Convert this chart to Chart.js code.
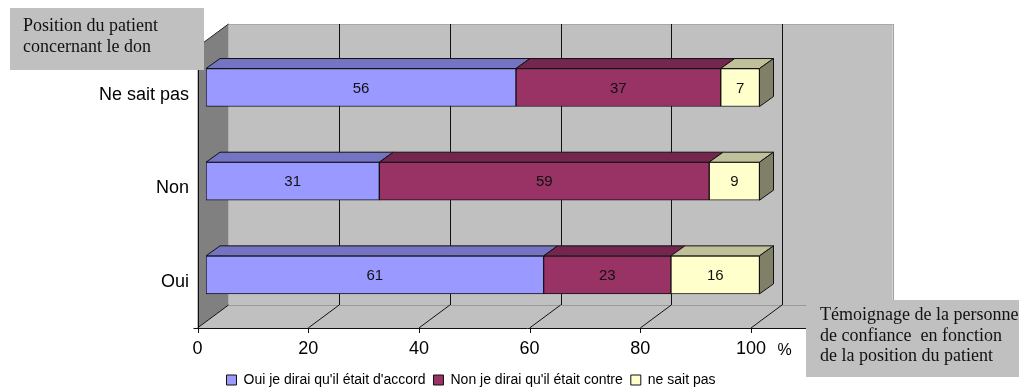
<!DOCTYPE html>
<html><head><meta charset="utf-8">
<script src="https://cdn.jsdelivr.net/npm/chart.js@4"></script>
<style>html,body{margin:0;padding:0;background:#fff;}#wrap{width:1019px;height:390px;}</style>
</head><body><div id="wrap"><canvas id="c" width="1019" height="390"></canvas></div>
<script>
// ---- data ----
const categories = ['Ne sait pas', 'Non', 'Oui'];
const seriesNames = ["Oui je dirai qu'il était d'accord", "Non je dirai qu'il était contre", "ne sait pas"];
const valuesOui = [56, 31, 61];
const valuesNon = [37, 59, 23];
const valuesNSP = [7, 9, 16];
const xTicks = [0, 20, 40, 60, 80, 100];
const xMax = 120;
const boxTextLeft = ['Position du patient', 'concernant le don'];
const boxTextRight = ['Témoignage de la personne', 'de confiance  en fonction', 'de la position du patient'];
const unitLabel = '%';

// 100% stacked: each row is scaled to its own total (labels keep the raw values)
const rawSeries = [valuesOui, valuesNon, valuesNSP];
const rowTotals = categories.map((_, i) => rawSeries.reduce((s, arr) => s + arr[i], 0));
const pct = arr => arr.map((v, i) => v / rowTotals[i] * 100);

// ---- style ----
const SANS = 'Liberation Sans, Arial, sans-serif';
const SERIF = 'Liberation Serif, Times New Roman, serif';
const frontColors = ['#9999FF', '#993366', '#FFFFCC'];
const topColors = ['#7474C2', '#74264E', '#C0C09A'];
const sideColors = ['#5C5C99', '#5C1F3D', '#808068'];
const D = {fx: -8.5, fy: 6.3, bx: 22.5, by: -16.7, bdx: 14, bdy: -10};
const PLOT_BOTTOM = 321.7;
const LEGEND_SHIFT = 7;

function poly(ctx, pts, fill, stroke) {
  ctx.beginPath();
  ctx.moveTo(pts[0][0], pts[0][1]);
  for (let i = 1; i < pts.length; i++) ctx.lineTo(pts[i][0], pts[i][1]);
  ctx.closePath();
  if (fill) { ctx.fillStyle = fill; ctx.fill(); }
  if (stroke) { ctx.strokeStyle = stroke; ctx.lineWidth = 1; ctx.stroke(); }
}
function line(ctx, x1, y1, x2, y2, color) {
  ctx.beginPath(); ctx.moveTo(x1, y1); ctx.lineTo(x2, y2);
  ctx.strokeStyle = color; ctx.lineWidth = 1; ctx.stroke();
}
const h = v => Math.round(v) + 0.5;

const wallsPlugin = {
  id: 'walls',
  afterLayout(chart) {
    if (chart.legend) { chart.legend.top += LEGEND_SHIFT; chart.legend.bottom += LEGEND_SHIFT; }
  },
  beforeDatasetsDraw(chart) {
    const {ctx, chartArea: ca, scales: {x}} = chart;
    const x0 = x.getPixelForValue(0), x1 = x.getPixelForValue(xMax);
    const T = ca.top, B = ca.bottom;
    ctx.save();
    // back wall
    poly(ctx, [[x0 + D.bx, T + D.by], [x1 + D.bx, T + D.by], [x1 + D.bx, B + D.by], [x0 + D.bx, B + D.by]], '#C0C0C0');
    line(ctx, x0 + D.bx, h(T + D.by), x1 + D.bx, h(T + D.by), '#A8A8A8');
    line(ctx, h(x1 + D.bx), T + D.by, h(x1 + D.bx), B + D.by, '#A0A0A0');
    // floor
    poly(ctx, [[x0 + D.fx, B + D.fy], [x1 + D.fx, B + D.fy], [x1 + D.bx, B + D.by], [x0 + D.bx, B + D.by]], '#C0C0C0');
    line(ctx, x0 + D.bx, h(B + D.by), x1 + D.bx, h(B + D.by), '#9A9A9A');
    line(ctx, x1 + D.fx, B + D.fy, x1 + D.bx, B + D.by, '#909090');
    // left wall
    poly(ctx, [[x0 + D.fx, T + D.fy], [x0 + D.bx, T + D.by], [x0 + D.bx, B + D.by], [x0 + D.fx, B + D.fy]], '#808080');
    line(ctx, x0 + D.fx, T + D.fy, x0 + D.bx, T + D.by, '#222');
    // grid lines on back wall + floor
    xTicks.forEach(v => {
      const px = x.getPixelForValue(v);
      if (v > 0) line(ctx, h(px + D.bx), T + D.by, h(px + D.bx), B + D.by, '#111');
      line(ctx, px + D.bx, B + D.by, px + D.fx, B + D.fy, '#111');
      line(ctx, h(px + D.fx), B + D.fy, h(px + D.fx), B + D.fy + 5, '#111');
    });
    // front axes
    line(ctx, x0 + D.fx - 4, h(B + D.fy), x1 + D.fx, h(B + D.fy), '#111');
    line(ctx, h(x0 + D.fx), T + D.fy, h(x0 + D.fx), B + D.fy + 5, '#111');
    ctx.restore();
  },
  afterDatasetsDraw(chart) {
    const {ctx} = chart;
    ctx.save();
    const last = chart.data.datasets.length - 1;
    chart.data.datasets.forEach((ds, di) => {
      const meta = chart.getDatasetMeta(di);
      meta.data.forEach((el) => {
        const p = el.getProps(['x', 'y', 'base', 'height'], true);
        const l = Math.min(p.x, p.base), r = Math.max(p.x, p.base);
        const t = p.y - p.height / 2, b = p.y + p.height / 2;
        poly(ctx, [[l, t], [r, t], [r + D.bdx, t + D.bdy], [l + D.bdx, t + D.bdy]], topColors[di], '#111');
        if (di === last) poly(ctx, [[r, t], [r + D.bdx, t + D.bdy], [r + D.bdx, b + D.bdy], [r, b]], sideColors[di], '#111');
      });
    });
    chart.data.datasets.forEach((ds, di) => {
      const meta = chart.getDatasetMeta(di);
      meta.data.forEach((el, i) => {
        const p = el.getProps(['x', 'y', 'base'], true);
        ctx.fillStyle = '#111';
        ctx.font = '15px ' + SANS;
        ctx.textAlign = 'center';
        ctx.textBaseline = 'middle';
        ctx.fillText(String(rawSeries[di][i]), (p.x + p.base) / 2, p.y + 1);
      });
    });
    ctx.restore();
  },
  afterDraw(chart) {
    const {ctx, chartArea: ca, scales: {x}} = chart;
    ctx.save();
    // "%" unit next to 100
    ctx.fillStyle = '#000';
    ctx.font = '16px ' + SANS;
    ctx.textAlign = 'left';
    ctx.textBaseline = 'middle';
    ctx.fillText(unitLabel, x.getPixelForValue(100) + 18, ca.bottom + 29);
    // annotation boxes
    ctx.fillStyle = '#C0C0C0';
    ctx.fillRect(10, 8, 194, 62);
    ctx.fillRect(806, 300, 213, 77);
    ctx.fillStyle = '#111';
    ctx.font = '18px ' + SERIF;
    ctx.textBaseline = 'alphabetic';
    boxTextLeft.forEach((s, i) => ctx.fillText(s, 23, 31 + i * 21));
    boxTextRight.forEach((s, i) => ctx.fillText(s, 820, 320 + i * 20.5));
    ctx.restore();
  }
};

const chart = new Chart(document.getElementById('c'), {
  type: 'bar',
  data: {
    labels: categories,
    datasets: [
      {label: seriesNames[0], data: pct(valuesOui), backgroundColor: frontColors[0]},
      {label: seriesNames[1], data: pct(valuesNon), backgroundColor: frontColors[1]},
      {label: seriesNames[2], data: pct(valuesNSP), backgroundColor: frontColors[2]}
    ].map(d => Object.assign(d, {borderColor: '#111', borderWidth: 1, borderSkipped: false, barThickness: 38}))
  },
  options: {
    indexAxis: 'y',
    responsive: false,
    animation: false,
    devicePixelRatio: 1,
    layout: {padding: {top: 40.7, left: 0, right: 77, bottom: 0}},
    scales: {
      x: {
        stacked: true, min: 0, max: xMax,
        grid: {display: false, drawTicks: false}, border: {display: false},
        ticks: {
          stepSize: 20, maxRotation: 0, autoSkip: false, labelOffset: -8.5, padding: 17,
          color: '#000', font: {size: 18, family: SANS},
          callback: v => (xTicks.includes(v) ? String(v) : '')
        },
        afterFit(s) { s.height = s.chart.height - (s.chart.legend ? s.chart.legend.height : 0) - PLOT_BOTTOM; }
      },
      y: {
        stacked: true,
        grid: {display: false, drawTicks: false}, border: {display: false},
        ticks: {padding: 17, labelOffset: 7, color: '#000', font: {size: 18, family: SANS}},
        afterFit(s) { s.width = 206; }
      },
      yR: {
        type: 'linear', axis: 'y', position: 'right', display: true,
        grid: {display: false, drawTicks: false}, border: {display: false},
        ticks: {display: false},
        afterFit(s) { s.width = 71.8; }
      }
    },
    plugins: {
      legend: {
        position: 'bottom',
        labels: {boxWidth: 10, boxHeight: 10, padding: 8, color: '#000', font: {size: 14, family: SANS}}
      },
      tooltip: {enabled: false}
    }
  },
  plugins: [wallsPlugin]
});
</script>
</body></html>
